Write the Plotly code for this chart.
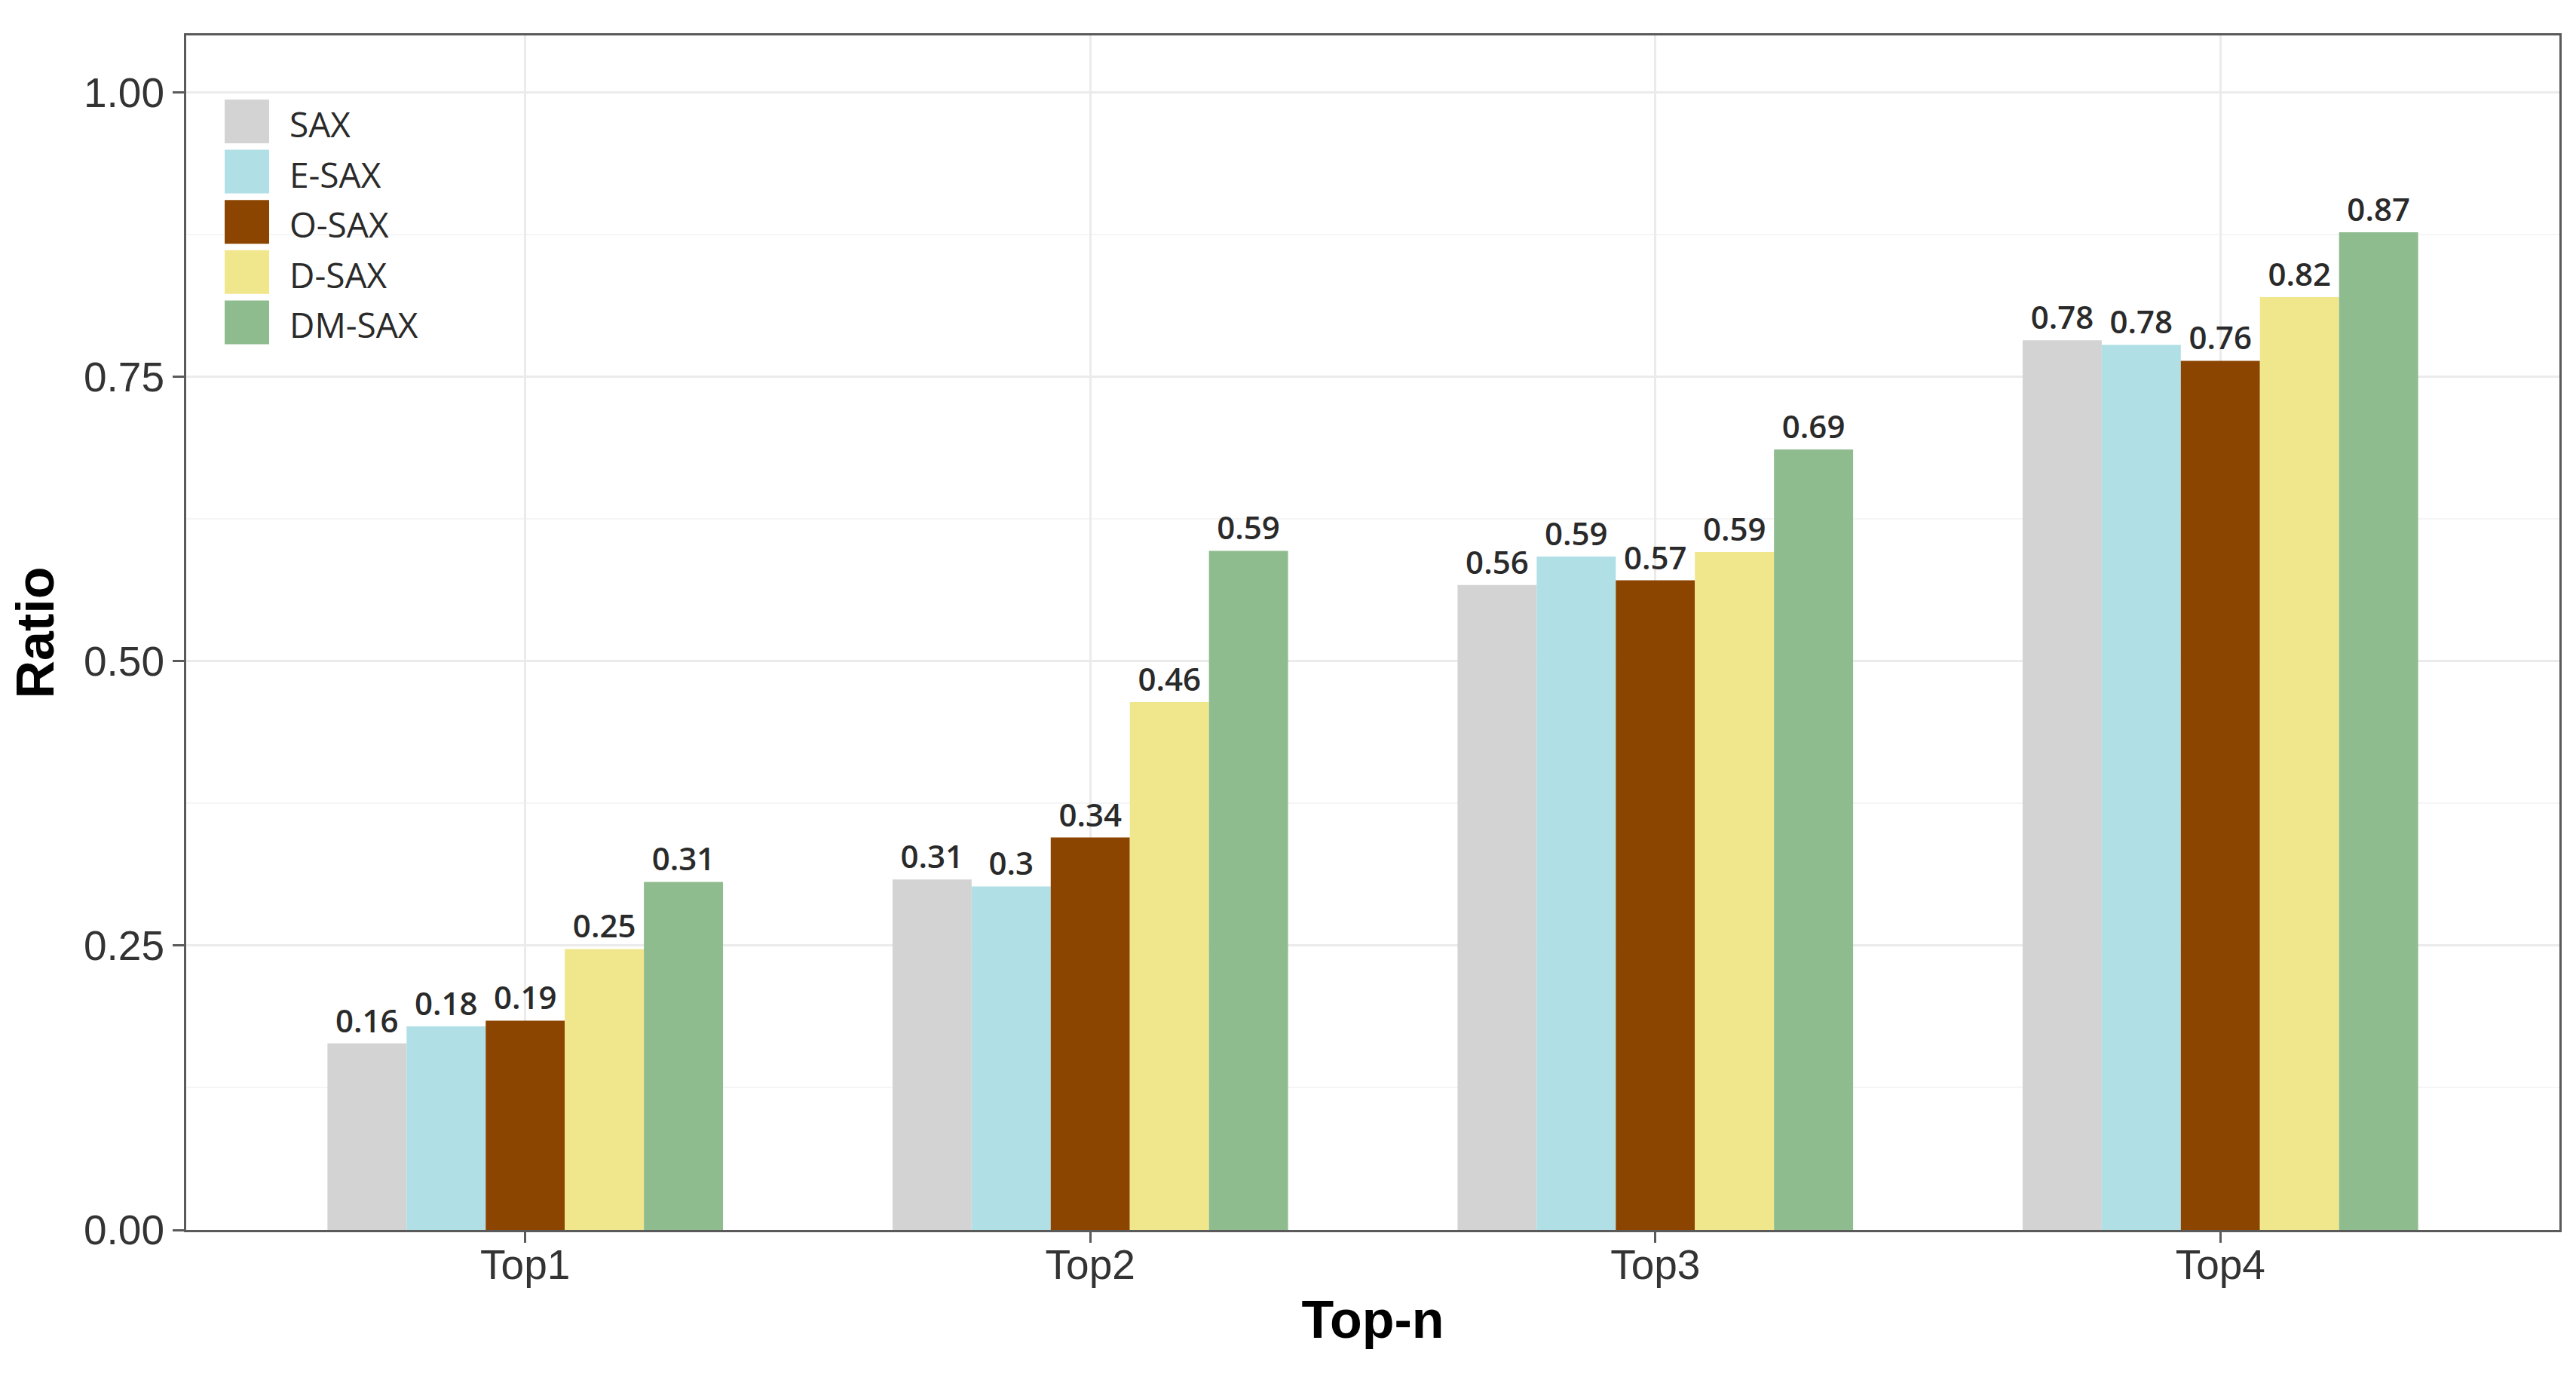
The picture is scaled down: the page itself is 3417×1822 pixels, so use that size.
import plotly.graph_objects as go

categories = ["Top1", "Top2", "Top3", "Top4"]
methods = ["SAX", "E-SAX", "O-SAX", "D-SAX", "DM-SAX"]

sax = [0.164, 0.308, 0.567, 0.782]
e_sax = [0.179, 0.302, 0.592, 0.778]
o_sax = [0.184, 0.345, 0.571, 0.764]
d_sax = [0.247, 0.464, 0.596, 0.820]
dm_sax = [0.306, 0.597, 0.686, 0.877]

sax_labels = ["0.16", "0.31", "0.56", "0.78"]
e_sax_labels = ["0.18", "0.3", "0.59", "0.78"]
o_sax_labels = ["0.19", "0.34", "0.57", "0.76"]
d_sax_labels = ["0.25", "0.46", "0.59", "0.82"]
dm_sax_labels = ["0.31", "0.59", "0.69", "0.87"]

colors = ["#D3D3D3", "#B0E0E6", "#8B4500", "#F0E68C", "#8FBC8F"]

series = [sax, e_sax, o_sax, d_sax, dm_sax]
labels = [sax_labels, e_sax_labels, o_sax_labels, d_sax_labels, dm_sax_labels]

fig = go.Figure()
for name, vals, labs, col in zip(methods, series, labels, colors):
    fig.add_trace(go.Bar(
        x=categories, y=vals, name=name, marker=dict(color=col, line=dict(width=0)),
        text=labs, textposition="outside", cliponaxis=False, constraintext="none",
        textfont=dict(family="Open Sans", size=42, color="#2a2a2a", weight=600),
        showlegend=False,
    ))

# plot area in pixels
L, R, T, B = 239, 3387, 39, 1623
W, H = 3417, 1822
ph = B - T
pw = R - L

def py(ypx):
    return (B - ypx) / ph

def px(xpx):
    return (xpx - L) / pw

shapes = []
annotations = []
key_top0 = 124
step = 66.6
key_h = 58
for i, (name, col) in enumerate(zip(methods, colors)):
    top = key_top0 + i * step
    shapes.append(dict(type="rect", xref="paper", yref="paper",
                       x0=px(290), x1=px(349), y0=py(top + key_h), y1=py(top),
                       fillcolor=col, line=dict(width=0), layer="above"))
    annotations.append(dict(xref="paper", yref="paper", x=px(374), y=py(top + key_h / 2 + 3),
                            text=name, showarrow=False, xanchor="left", yanchor="middle",
                            font=dict(family="Open Sans", size=46, color="#2a2a2a")))

fig.update_layout(
    width=W, height=H,
    margin=dict(l=L, r=W - R, t=T, b=H - B),
    paper_bgcolor="white", plot_bgcolor="white",
    barmode="group", bargap=0.3, bargroupgap=0,
    shapes=shapes, annotations=annotations,
    showlegend=False,
    font=dict(family="Liberation Sans", color="#333333"),
)
fig.update_xaxes(
    range=[-0.6, 3.6], showgrid=True, gridcolor="#EBEBEB", gridwidth=3,
    showline=True, mirror=True, linecolor="#5a5a5a", linewidth=3,
    ticks="outside", ticklen=14, tickwidth=3, tickcolor="#5a5a5a",
    ticklabelstandoff=-18,
    tickfont=dict(family="Liberation Sans", size=55, color="#333333"),
    title=dict(text="<b>Top-n</b>", standoff=18,
               font=dict(family="Liberation Sans", size=70, color="#000000")),
)
fig.update_yaxes(
    range=[0, 1.05], dtick=0.25, tickformat=".2f",
    showgrid=True, gridcolor="#EBEBEB", gridwidth=3,
    minor=dict(dtick=0.125, showgrid=True, gridcolor="#F5F5F5", gridwidth=2, ticklen=0),
    zeroline=False,
    showline=True, mirror=True, linecolor="#5a5a5a", linewidth=3,
    ticks="outside", ticklen=15, tickwidth=3, tickcolor="#5a5a5a",
    tickfont=dict(family="Liberation Sans", size=55, color="#333333"),
    title=dict(text="<b>Ratio</b>", standoff=18,
               font=dict(family="Liberation Sans", size=70, color="#000000")),
)

fig.write_html("out.html")
